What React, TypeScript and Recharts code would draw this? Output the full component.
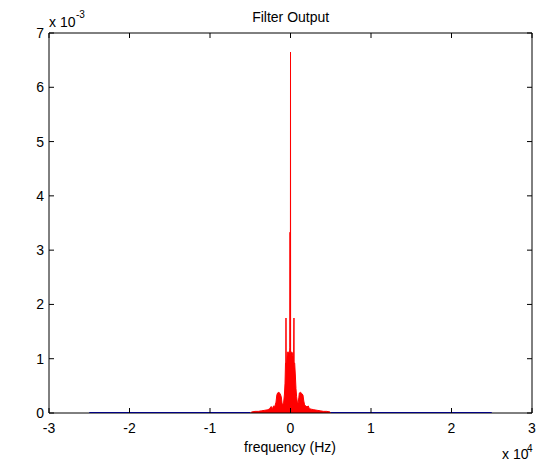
import React from 'react';
import { ComposedChart, Line, Area, XAxis, YAxis } from 'recharts';

// Filter output spectrum (red), magnitude in units of 1e-3
const outputFreqHz = [
  -5000, -4800, -4400, -4000, -3600, -3200, -2800, -2600, -2400, -2250, -2100, -1950, -1800, -1700,
  -1600, -1450, -1300, -1150, -1050, -950, -850, -750, -680, -620, -580, -560, -540, -480, -400,
  -300, -200, -120, -80, -60, -40, -15, 0, 15, 40, 80, 120, 200, 300, 380, 430, 450, 520, 600,
  680, 760, 850, 950, 1030, 1100, 1250, 1400, 1550, 1650, 1750, 1900, 2050, 2200, 2350, 2600,
  2900, 3300, 3700, 4100, 4500, 4900, 5000,
];
const outputMag = [
  0, 0.02, 0.03, 0.03, 0.04, 0.05, 0.06, 0.08, 0.12, 0.08, 0.13, 0.12, 0.2, 0.33,
  0.37, 0.38, 0.36, 0.3, 0.18, 0.15, 0.2, 0.35, 0.55, 0.92, 0.92, 1.75, 0.92, 0.92, 1.12,
  1.12, 1.12, 1.12, 1.2, 3.33, 1.2, 1.12, 6.65, 1.12, 1.12, 1.12, 1.12, 1.12, 1.05, 0.92, 1.75, 0.92, 0.92, 0.7,
  0.45, 0.3, 0.2, 0.18, 0.28, 0.37, 0.38, 0.36, 0.33, 0.22, 0.15, 0.13, 0.11, 0.13, 0.08, 0.07,
  0.06, 0.05, 0.04, 0.03, 0.03, 0.02, 0,
];

// Blue baseline trace (magnitude ~0 outside the passband)
const inputFreqHz = [-25000, -5000, 0, 5000, 25000];
const inputMag: (number | null)[] = [0, 0, null, 0, 0];

const xTicks = [-30000, -20000, -10000, 0, 10000, 20000, 30000];
const yTicks = [0, 1, 2, 3, 4, 5, 6, 7];
const titleText = 'Filter Output';
const xLabelText = 'frequency (Hz)';

const outputData = outputFreqHz.map((f, i) => ({ f, v: outputMag[i] }));
const inputData = inputFreqHz.map((f, i) => ({ f, v: inputMag[i] }));

const FONT = '"Liberation Sans", Arial, Helvetica, sans-serif';
const TICK_LEN = 5;

const BottomTick = (props: any) => {
  const { x, y, payload } = props;
  const axisY = y - 10;
  return (
    <g>
      <line x1={x} x2={x} y1={axisY} y2={axisY - TICK_LEN} stroke="#000" />
      <text x={x} y={y} dy="0.71em" textAnchor="middle" fontSize={14} fontFamily={FONT} fill="#000">
        {String(payload.value / 10000)}
      </text>
    </g>
  );
};

const TopTick = (props: any) => {
  const { x, y } = props;
  return <line x1={x} x2={x} y1={y} y2={y + TICK_LEN} stroke="#000" />;
};

const LeftTick = (props: any) => {
  const { x, y, payload } = props;
  const axisX = x + 5;
  return (
    <g>
      <line x1={axisX} x2={axisX + TICK_LEN} y1={y} y2={y} stroke="#000" />
      <text x={x} y={y} dy="0.355em" textAnchor="end" fontSize={14} fontFamily={FONT} fill="#000">
        {String(payload.value)}
      </text>
    </g>
  );
};

const RightTick = (props: any) => {
  const { x, y } = props;
  return <line x1={x} x2={x - TICK_LEN} y1={y} y2={y} stroke="#000" />;
};

export default function App() {
  const W = 537;
  const H = 461;
  return (
    <div
      style={{
        position: 'fixed',
        left: 0,
        top: 0,
        width: W,
        height: H,
        fontFamily: FONT,
        background: '#fff',
      }}
    >
      <ComposedChart
        width={W}
        height={H}
        margin={{ top: 32, right: 4, bottom: 28, left: 0 }}
        style={{ background: '#fff' }}
      >
        <XAxis
          dataKey="f"
          type="number"
          domain={[-30000, 30000]}
          ticks={xTicks}
          interval={0}
          allowDataOverflow
          height={20}
          tickSize={0}
          tickMargin={10}
          tickLine={false}
          axisLine={{ stroke: '#000' }}
          tick={<BottomTick />}
        />
        <XAxis
          xAxisId="top"
          orientation="top"
          dataKey="f"
          type="number"
          domain={[-30000, 30000]}
          ticks={xTicks}
          interval={0}
          allowDataOverflow
          height={1}
          tickSize={0}
          tickMargin={0}
          tickLine={false}
          axisLine={{ stroke: '#000' }}
          tick={<TopTick />}
        />
        <YAxis
          type="number"
          domain={[0, 7]}
          ticks={yTicks}
          interval={0}
          allowDataOverflow
          width={49}
          tickSize={0}
          tickMargin={5}
          tickLine={false}
          axisLine={{ stroke: '#000' }}
          tick={<LeftTick />}
        />
        <YAxis
          yAxisId="right"
          orientation="right"
          type="number"
          domain={[0, 7]}
          ticks={yTicks}
          interval={0}
          allowDataOverflow
          width={1}
          tickSize={0}
          tickMargin={0}
          tickLine={false}
          axisLine={{ stroke: '#000' }}
          tick={<RightTick />}
        />
        <Line
          data={inputData}
          dataKey="v"
          xAxisId="top"
          yAxisId="right"
          type="linear"
          stroke="#0000ff"
          strokeWidth={2}
          dot={false}
          connectNulls={false}
          isAnimationActive={false}
        />
        <Area
          data={outputData}
          dataKey="v"
          type="linear"
          stroke="#ff0000"
          strokeWidth={1}
          fill="#ff0000"
          fillOpacity={1}
          dot={false}
          isAnimationActive={false}
        />
      </ComposedChart>
      <svg
        width={W}
        height={H}
        style={{ position: 'absolute', left: 0, top: 0, pointerEvents: 'none' }}
      >
        <text x={290.7} y={22} textAnchor="middle" fontSize={14} fontFamily={FONT} fill="#000">
          {titleText}
        </text>
        <text x={49} y={27} fontSize={14} fontFamily={FONT} fill="#000">x 10</text>
        <text x={76} y={18} fontSize={10} fontFamily={FONT} fill="#000">-3</text>
        <text x={290} y={452} textAnchor="middle" fontSize={14} fontFamily={FONT} fill="#000">
          {xLabelText}
        </text>
        <text x={502} y={459} fontSize={14} fontFamily={FONT} fill="#000">x 10</text>
        <text x={527} y={452} fontSize={10} fontFamily={FONT} fill="#000">4</text>
      </svg>
    </div>
  );
}
